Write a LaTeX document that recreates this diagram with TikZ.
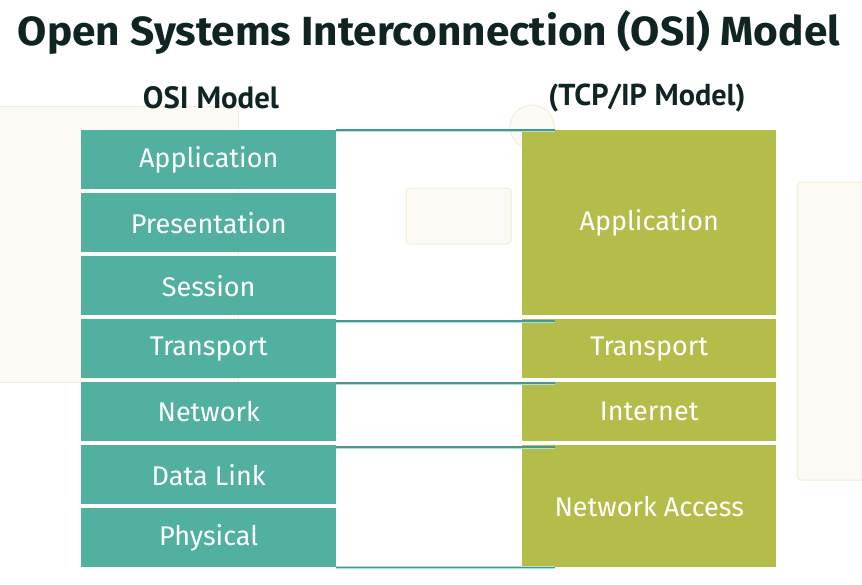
\documentclass[tikz,border=0pt]{standalone}
\usepackage{fontspec}
\setmainfont{Fira Sans}
\newfontfamily\headfont{PT Sans}
\newfontfamily\titlefont{Fira Sans}
\definecolor{ositeal}{RGB}{82,176,160}
\definecolor{tcpgreen}{RGB}{181,189,74}
\definecolor{titlecol}{RGB}{16,36,36}
\definecolor{linkcol}{RGB}{72,150,140}
\definecolor{linkhalo}{RGB}{170,226,218}
\definecolor{creamfill}{RGB}{252,250,244}
\definecolor{creamline}{RGB}{244,236,212}
\begin{document}
\begin{tikzpicture}[x=1pt,y=-1pt,
  osibox/.style={rectangle,fill=ositeal,draw=none,anchor=north west,minimum width=255pt,text=white,inner sep=0pt,font=\fontsize{27}{30}\selectfont},
  tcpbox/.style={rectangle,fill=tcpgreen,draw=none,anchor=north west,minimum width=254pt,text=white,inner sep=0pt,font=\fontsize{27}{30}\selectfont},
  link/.style={draw=linkcol,line width=1.8pt},
  halo/.style={draw=linkhalo,line width=3pt},
  deco/.style={fill=creamfill,draw=creamline,line width=1pt}]
\useasboundingbox (0,0) rectangle (862,584);
\fill[white] (0,0) rectangle (862,584);
% faint background decorations
\draw[deco] (-5,106) -- (238,106) -- (238,382) -- (-5,382);
\draw[deco,rounded corners=4pt] (406,188) rectangle (511,244);
\draw[deco,rounded corners=4pt] (797,182) rectangle (875,480);
\draw[deco] (532,127) circle (22);
% title
\node[anchor=center,text=titlecol,inner sep=0pt] (title) at (429,33) {\resizebox*{822pt}{44pt}{\titlefont\bfseries Open Systems Interconnection (OSI) Model}};
\node[anchor=center,text=titlecol] (osih) at (211,98) {\resizebox{136pt}{!}{\headfont\bfseries OSI Model}};
\node[anchor=center,text=titlecol] (tcph) at (647,98) {\resizebox{197pt}{!}{\headfont\bfseries (TCP/IP Model)}};
% OSI layers
\node[osibox,minimum height=59pt] (l7) at (81,130) {Application};
\node[osibox,minimum height=59pt] (l6) at (81,193) {Presentation};
\node[osibox,minimum height=59pt] (l5) at (81,256) {Session};
\node[osibox,minimum height=59pt] (l4) at (81,319) {Transport};
\node[osibox,minimum height=59pt] (l3) at (81,382) {Network};
\node[osibox,minimum height=59pt] (l2) at (81,445) {Data Link};
\node[osibox,minimum height=59pt] (l1) at (81,508) {Physical};
% TCP/IP layers
\node[tcpbox,minimum height=185pt] (t4) at (522,130) {Application};
\node[tcpbox,minimum height=59pt] (t3) at (522,319) {Transport};
\node[tcpbox,minimum height=59pt] (t2) at (522,382) {Internet};
\node[tcpbox,minimum height=122pt] (t1) at (522,445) {Network Access};
% connector lines
\coordinate (e1) at ([xshift=33pt]t4.north west);
\coordinate (e2) at ([xshift=33pt,yshift=-2pt]t3.north west);
\coordinate (e3) at ([xshift=33pt,yshift=-1pt]t2.north west);
\coordinate (e4) at ([xshift=33pt,yshift=-2pt]t1.north west);
\coordinate (e5) at ([xshift=33pt]t1.south west);
\foreach \s/\e in {l7.north east/e1, l4.north east/e2, l3.north east/e3, l2.north east/e4, l1.south east/e5}{
  \draw[halo] (\s |- \e) -- (\e);
  \draw[link] (\s |- \e) -- (\e);
}
\end{tikzpicture}
\end{document}
